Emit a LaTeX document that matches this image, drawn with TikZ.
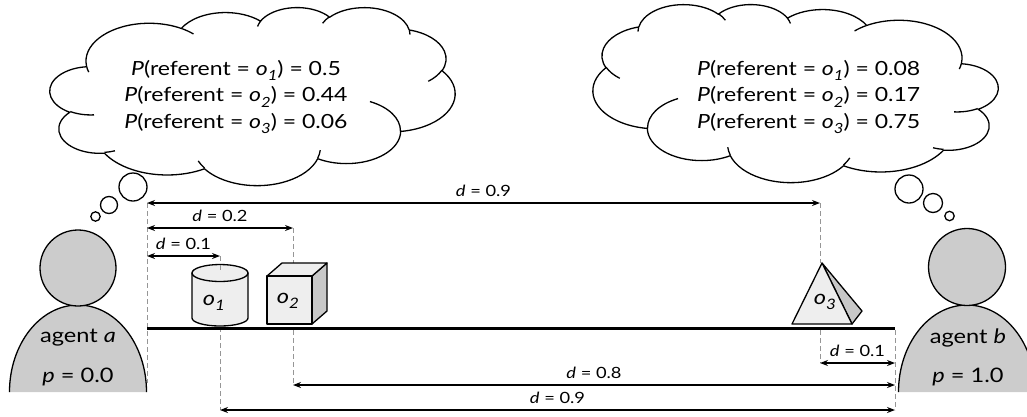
\documentclass[tikz,border=0pt]{standalone}
\usepackage{graphicx}
\usepackage{fontspec}
\setmainfont{Lato}[FakeStretch=1.18]
\usetikzlibrary{arrows.meta}

\definecolor{bodygray}{RGB}{204,204,204}
\definecolor{facelight}{RGB}{238,238,238}
\definecolor{facedark}{RGB}{200,200,200}
\definecolor{guidegray}{RGB}{150,150,150}

% italic o with a lowered italic index
\newcommand\osub[1]{\textit{o}\raisebox{-0.55ex}{\scalebox{0.72}{\textit{#1}}}}

% elliptical arc from the current point: radii, start angle (measured as a
% visual angle, y pointing down) and sweep
\newcommand\cldarc[4]{%
  \pgfmathsetmacro\cldts{atan2((#1)*sin(#3),(#2)*cos(#3))}%
  \pgfmathsetmacro\cldte{atan2((#1)*sin((#3)+(#4)),(#2)*cos((#3)+(#4)))}%
  \pgfmathsetmacro\cldtf{\cldts+mod(\cldte-(\cldts)+720,360)}%
  \pgfpatharc{\cldts}{\cldtf}{#1pt and #2pt}%
}

% cloud outline in a 432 x 432 box, with the little inner curls
\newcommand\cloudoutline{%
  \pgfpathmoveto{\pgfpoint{39.00pt}{143.70pt}}%
  \cldarc{67.53}{91.90}{-190.488}{123.781}%
  \cldarc{53.33}{72.67}{-144.102}{89.945}%
  \cldarc{43.65}{59.45}{-145.808}{99.723}%
  \cldarc{48.57}{65.95}{-130.986}{117.242}%
  \cldarc{53.33}{72.73}{-78.709}{109.027}%
  \cldarc{67.75}{92.20}{-46.267}{130.269}%
  \cldarc{57.85}{78.67}{0.625}{114.033}%
  \cldarc{67.52}{92.15}{22.452}{115.173}%
  \cldarc{77.20}{105.43}{66.243}{75.711}%
  \cldarc{43.60}{59.18}{-274.942}{146.736}%
  \cldarc{43.45}{59.45}{-246.829}{152.519}%
  \pgfpathclose
  \pgfpathmoveto{\pgfpoint{46.93pt}{261.77pt}}\cldarc{43.45}{59.45}{86.742}{26.430}%
  \pgfpathmoveto{\pgfpoint{69.28pt}{348.99pt}}\cldarc{43.60}{59.18}{73.610}{11.447}%
  \pgfpathmoveto{\pgfpoint{164.78pt}{390.90pt}}\cldarc{67.52}{92.15}{137.624}{14.081}%
  \pgfpathmoveto{\pgfpoint{288.27pt}{347.51pt}}\cldarc{67.52}{92.15}{6.453}{15.998}%
  \pgfpathmoveto{\pgfpoint{341.29pt}{229.54pt}}\cldarc{57.85}{78.67}{-70.292}{70.917}%
  \pgfpathmoveto{\pgfpoint{417.98pt}{153.54pt}}\cldarc{53.33}{72.73}{30.318}{27.752}%
  \pgfpathmoveto{\pgfpoint{383.24pt}{54.26pt}}\cldarc{48.57}{65.95}{-13.744}{14.859}%
  \pgfpathmoveto{\pgfpoint{290.78pt}{39.52pt}}\cldarc{48.57}{65.95}{-149.181}{18.195}%
  \pgfpathmoveto{\pgfpoint{221.41pt}{47.20pt}}\cldarc{43.65}{59.45}{-163.494}{17.686}%
  \pgfpathmoveto{\pgfpoint{140.00pt}{51.92pt}}\cldarc{67.53}{91.90}{-66.707}{12.319}%
  \pgfpathmoveto{\pgfpoint{41.27pt}{157.89pt}}\cldarc{67.53}{91.90}{157.65}{11.86}%
}

\tikzset{
  outline/.style={line width=1.3pt},
  cloudtext/.style={inner sep=0pt, font=\fontsize{19.5}{26.5}\selectfont},
  agenttext/.style={inner sep=0pt, font=\fontsize{20}{24}\selectfont},
  objtext/.style={inner sep=0pt, font=\fontsize{20}{24}\selectfont},
  distlabel/.style={inner sep=0pt, font=\fontsize{15.5}{18}\selectfont},
  dimline/.style={{Stealth[length=8pt,width=6pt]}-{Stealth[length=8pt,width=6pt]}, line width=1.2pt},
  guide/.style={guidegray, line width=1pt, dash pattern=on 5pt off 3pt},
}

\begin{document}
\begin{tikzpicture}[x=1pt,y=1pt,yscale=-1,line join=round]
\useasboundingbox (0,0) rectangle (1027,416);

% ---- thought clouds ----
\begin{scope}[shift={(50,7)},xscale=405/432,yscale=178/432,line width=1.3pt]
  \cloudoutline\pgfusepath{stroke}
\end{scope}
\begin{scope}[shift={(998,4)},xscale=-405/432,yscale=178/432,line width=1.3pt]
  \cloudoutline\pgfusepath{stroke}
\end{scope}

\draw[outline] (133,187) circle[radius=14];
\draw[outline] (109,205) circle[radius=8.5];
\draw[outline] (95.5,216.5) circle[radius=4.7];
\draw[outline] (909,189) circle[radius=14];
\draw[outline] (933,203) circle[radius=9.5];
\draw[outline] (949.5,216) circle[radius=4.7];

\node[cloudtext, align=center] (beliefa) at (236,97)
  {\textit{P}(referent = \osub{1}) = 0.5\\
   \textit{P}(referent = \osub{2}) = 0.44\\
   \textit{P}(referent = \osub{3}) = 0.06};
\node[cloudtext, align=left, anchor=west] (beliefb) at (697,97)
  {\textit{P}(referent = \osub{1}) = 0.08\\
   \textit{P}(referent = \osub{2}) = 0.17\\
   \textit{P}(referent = \osub{3}) = 0.75};

% ---- agents ----
\filldraw[outline, fill=bodygray] (9.5,392) arc[start angle=180, end angle=360, x radius=68.5, y radius=87];
\filldraw[outline, fill=bodygray] (78,268) circle[radius=38];
\filldraw[outline, fill=bodygray] (898.5,392) arc[start angle=180, end angle=360, x radius=68.5, y radius=87];
\filldraw[outline, fill=bodygray] (967,267) circle[radius=38.5];

\node[agenttext] (namea) at (78,338) {agent \textit{a}};
\node[agenttext] (posa) at (78,377) {\textit{p} = 0.0};
\node[agenttext] (nameb) at (968,338) {agent \textit{b}};
\node[agenttext] (posb) at (968,377) {\textit{p} = 1.0};

% ---- positions along the table ----
\coordinate (pa) at (147,0);
\coordinate (p1) at (220,0);
\coordinate (p2) at (293,0);
\coordinate (p3) at (820,0);
\coordinate (pb) at (895,0);

% guide lines
\draw[guide] (pa |- 0,203) -- (pa |- 0,383);
\draw[guide] (p1 |- 0,256) -- (p1 |- 0,271);
\draw[guide] (p1 |- 0,327) -- (p1 |- 0,410);
\draw[guide] (p2 |- 0,228) -- (p2 |- 0,265);
\draw[guide] (p2 |- 0,330) -- (p2 |- 0,385);
\draw[guide] (p3 |- 0,203) -- (p3 |- 0,263);
\draw[guide] (p3 |- 0,330) -- (p3 |- 0,363);
\draw[guide] (pb |- 0,330) -- (pb |- 0,410);

% ---- objects ----
% o1: cylinder
\filldraw[outline, fill=facelight] (192,273) -- (192,318)
  arc[start angle=180, end angle=0, x radius=28, y radius=8] -- (248,273) -- cycle;
\filldraw[outline, fill=facelight] (220,273) ellipse[x radius=28, y radius=8.5];
\draw[guide] (p1 |- 0,265) -- (p1 |- 0,272);
\node[objtext] (o1) at (214,303) {\osub{1}};

% o2: cube
\filldraw[outline, fill=facedark] (312,276) -- (327,263) -- (327,311) -- (312,324) -- cycle;
\filldraw[outline, fill=facelight] (267,276) -- (282,263) -- (327,263) -- (312,276) -- cycle;
\filldraw[outline, fill=facelight] (267,276) rectangle (312,324);
\node[objtext] (o2) at (288,301) {\osub{2}};

% o3: pyramid
\filldraw[outline, fill=facedark] (822,263) -- (852,324) -- (862,311) -- cycle;
\filldraw[outline, fill=facelight] (822,263) -- (792,324) -- (852,324) -- cycle;
\node[objtext] (o3) at (825,302) {\osub{3}};

% table top
\draw[line width=3pt] (pa |- 0,328) -- (pb |- 0,328);

% ---- distances ----
\draw[dimline] (pa |- 0,203) -- node[distlabel, above=6pt] (d1) {\textit{d} = 0.9} (p3 |- 0,203);
\draw[dimline] (pa |- 0,228) -- node[distlabel, above=6pt] (d2) {\textit{d} = 0.2} (p2 |- 0,228);
\draw[dimline] (pa |- 0,256) -- node[distlabel, above=6pt] (d3) {\textit{d} = 0.1} (p1 |- 0,256);
\draw[dimline] (p3 |- 0,363) -- node[distlabel, above=6pt] (d4) {\textit{d} = 0.1} (pb |- 0,363);
\draw[dimline] (p2 |- 0,385) -- node[distlabel, above=6pt] (d5) {\textit{d} = 0.8} (pb |- 0,385);
\draw[dimline] (p1 |- 0,410) -- node[distlabel, above=6pt] (d6) {\textit{d} = 0.9} (pb |- 0,410);
\end{tikzpicture}
\end{document}
